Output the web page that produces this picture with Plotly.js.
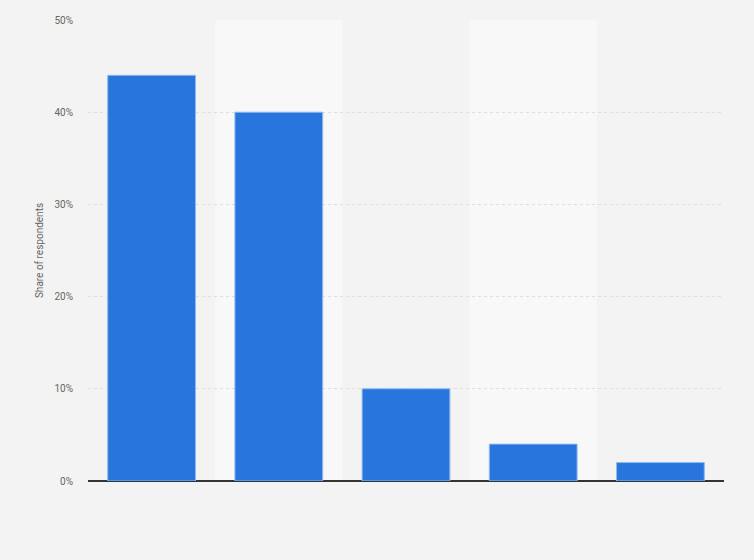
<!DOCTYPE html>
<html>
<head>
<meta charset="utf-8">
<script src="https://cdn.plot.ly/plotly-3.0.1.min.js"></script>
<style>
  html, body { margin: 0; padding: 0; background: #f3f3f3; }
  #chart { width: 754px; height: 560px; }
</style>
</head>
<body>
<div id="chart"></div>
<script>
categories = ["Category 1", "Category 2", "Category 3", "Category 4", "Category 5"];
shares = [44, 40, 10, 4, 2]; // percent of respondents

ytick_vals = [0, 10, 20, 30, 40, 50];
ytick_text = ["0%", "10%", "20%", "30%", "40%", "50%"];

// lighter bands behind every second column
var bands = [];
for (var i = 1; i < categories.length; i += 2) {
    bands.push({
        type: "rect",
        xref: "x",
        yref: "paper",
        x0: i - 0.5,
        x1: i + 0.5,
        y0: 0,
        y1: 1,
        fillcolor: "#f8f8f8",
        line: { width: 0 },
        layer: "below",
    });
}

var trace = {
    type: "bar",
    x: categories,
    y: shares,
    marker: {
        color: "#2876dd",
        line: { color: "#8fb8ee", width: 1 },
    },
    hoverinfo: "none",
};

var layout = {
    width: 754,
    height: 560,
    margin: { l: 88, r: 30, t: 20, b: 79 },
    paper_bgcolor: "#f3f3f3",
    plot_bgcolor: "#f3f3f3",
    bargap: 0.31,
    showlegend: false,
    shapes: bands,
    font: { family: "Roboto, Arial, sans-serif", color: "#666666", size: 10 },
    xaxis: {
        showticklabels: false,
        ticks: "",
        showgrid: false,
        zeroline: false,
        showline: false,
    },
    yaxis: {
        range: [0, 50],
        tickvals: ytick_vals,
        ticktext: ytick_text,
        ticks: "",
        ticklabelstandoff: 14,
        showgrid: true,
        gridcolor: "#dedede",
        griddash: "dot",
        gridwidth: 1,
        zeroline: true,
        zerolinecolor: "#333333",
        zerolinewidth: 1.5,
        showline: false,
        tickfont: { size: 10, color: "#666666" },
        title: {
            text: "Share of respondents",
            font: { size: 10, color: "#666666" },
            standoff: 8,
        },
    },
};

Plotly.newPlot("chart", [trace], layout, { displayModeBar: false, staticPlot: true });
</script>
</body>
</html>
